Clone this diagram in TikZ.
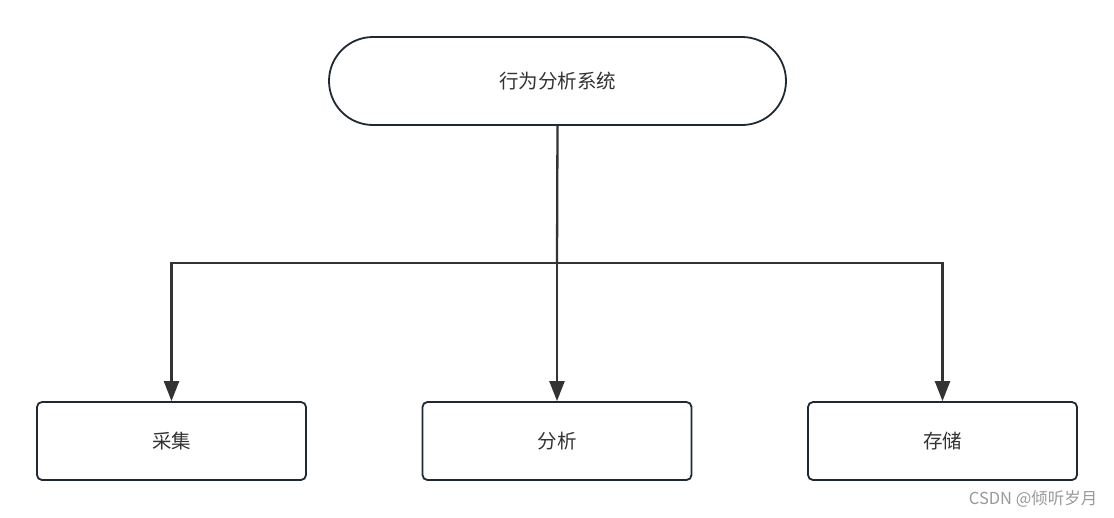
\documentclass[tikz,border=0pt]{standalone}
\usepackage{fontspec}
\newfontfamily\cjk{Noto Sans CJK SC}
\usetikzlibrary{arrows.meta}
\definecolor{boxline}{HTML}{1F2933}
\definecolor{linkline}{HTML}{333333}
\definecolor{txt}{HTML}{333333}
\definecolor{mark}{HTML}{999999}
\tikzset{
	topbox/.style={draw=boxline, line width=1.8pt, rounded corners=44pt, minimum width=457pt, minimum height=88pt, font=\cjk\fontsize{19.5pt}{19.5pt}\selectfont, text=txt},
	leafbox/.style={draw=boxline, line width=1.8pt, rounded corners=5pt, minimum width=269pt, minimum height=78pt, font=\cjk\fontsize{19.5pt}{19.5pt}\selectfont, text=txt},
	link/.style={draw=linkline, line width=2.3pt, -{Triangle[length=20pt,width=15pt]}}
}
\begin{document}
\begin{tikzpicture}[x=1pt,y=-1pt]
			\useasboundingbox (0,0) rectangle (1114,517);
			\node[topbox] (sys) at (557.5,81) {行为分析系统};
			\node[leafbox] (caiji) at (171.5,441) {采集};
			\node[leafbox] (fenxi) at (557,441) {分析};
			\node[leafbox] (cunchu) at (942.5,441) {存储};
			\coordinate (fork) at (557,263);
			\draw[link, -] (sys.south) -- (fork);
			\draw[link] (fork) -| (caiji.north);
			\draw[link] (fork) -- (fenxi.north);
			\draw[link] (fork) -| (cunchu.north);
			\node[anchor=base east, text=mark, font=\cjk\fontsize{16.5pt}{16.5pt}\selectfont] (wm) at (1101,504) {CSDN @倾听岁月};
		\end{tikzpicture}
\end{document}
